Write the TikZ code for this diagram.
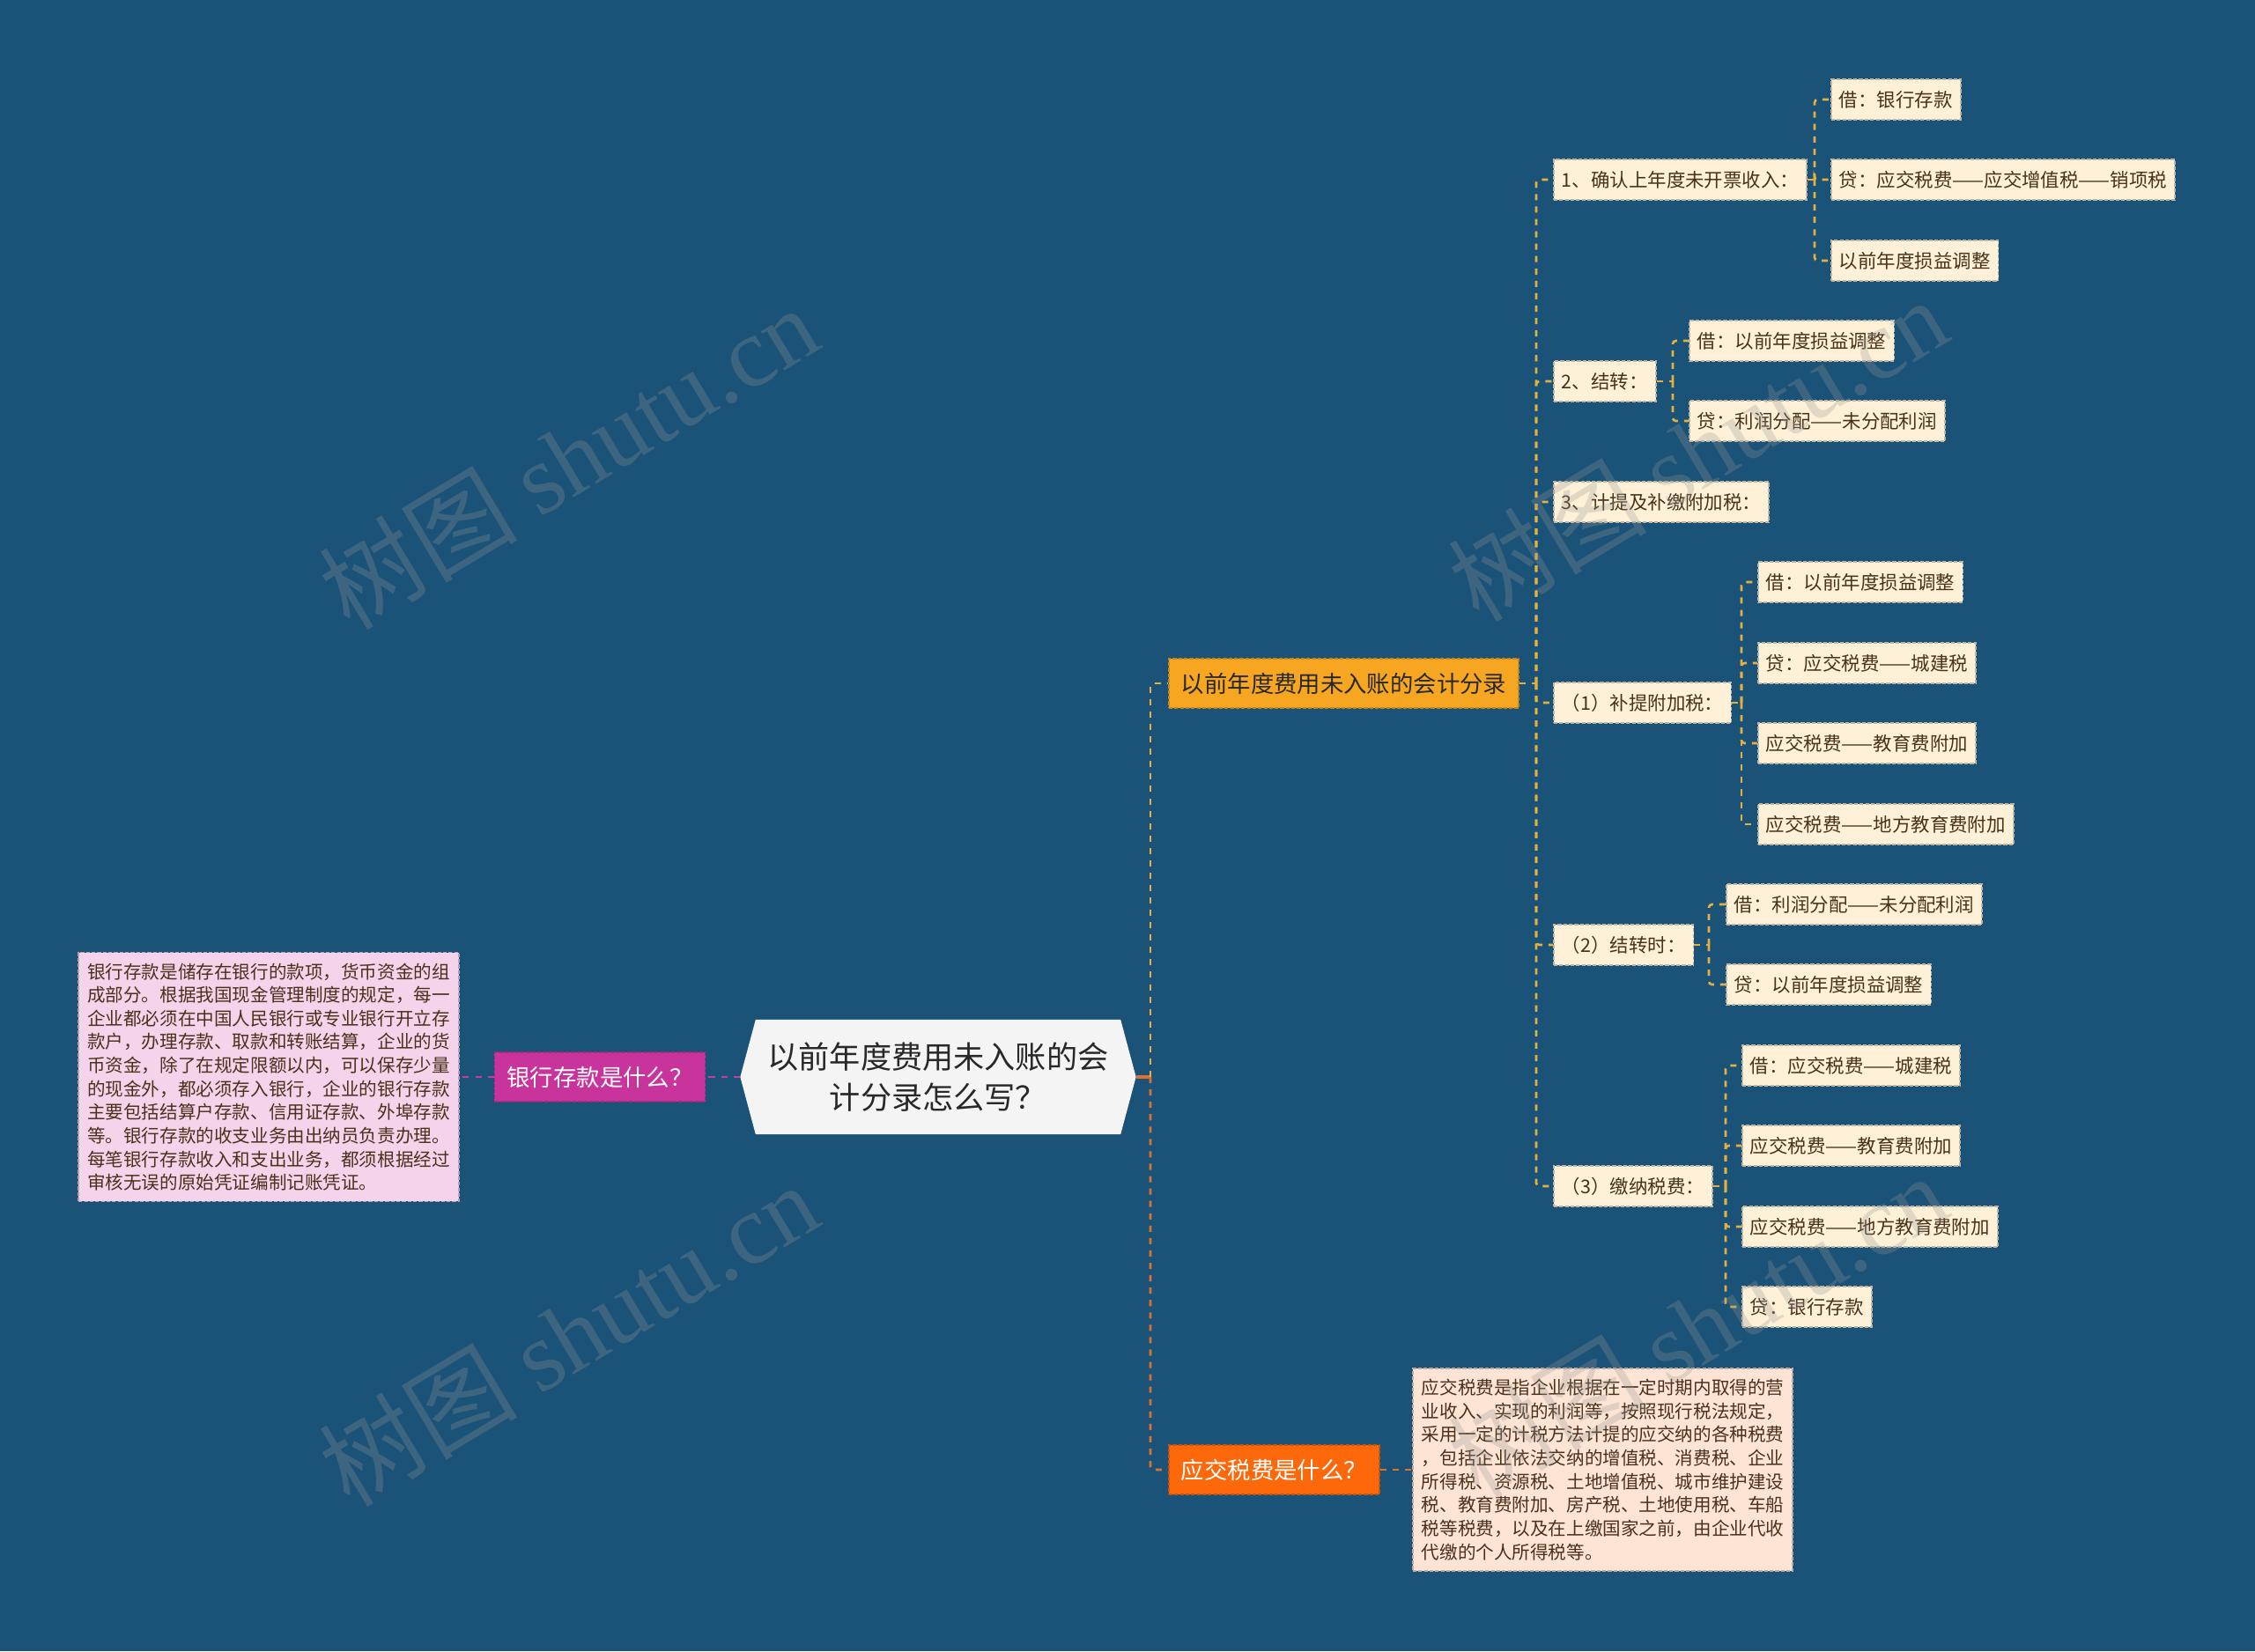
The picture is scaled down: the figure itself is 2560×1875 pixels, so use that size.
\documentclass[tikz,border=0pt]{standalone}
\usepackage{fontspec}
\usepackage{tikz}
\usetikzlibrary{shapes.symbols, positioning, calc}
\newfontfamily\cjk{Noto Sans CJK SC}
\newfontfamily\wmfont{Liberation Serif}
\definecolor{mybg}{RGB}{27,83,120}
\definecolor{myroot}{RGB}{244,244,244}
\definecolor{mytext}{RGB}{40,40,40}
\definecolor{mybrown}{RGB}{72,50,28}
\definecolor{mymagenta}{RGB}{200,52,155}
\definecolor{mypink}{RGB}{245,211,234}
\definecolor{mygold}{RGB}{247,166,34}
\definecolor{myorange}{RGB}{252,104,10}
\definecolor{mypeach}{RGB}{253,228,212}
\definecolor{mycream}{RGB}{254,241,216}
\definecolor{linkgold}{RGB}{228,176,64}
\definecolor{linkorange}{RGB}{222,112,48}
\definecolor{linkmagenta}{RGB}{196,62,160}
\definecolor{wmgray}{RGB}{150,150,150}
\tikzset{
  box/.style={rectangle, dash pattern=on 1.2pt off 0.6pt, line width=0.5pt, inner ysep=0pt},
  rootbox/.style={signal, signal to=east and west, signal pointer angle=150,
    fill=myroot, text=mytext, font=\cjk\fontsize{10}{13}\selectfont,
    align=center, minimum width=4.49cm, minimum height=1.3cm},
  topic/.style={box, draw=#1!80!black, fill=#1, minimum height=0.56cm,
    inner xsep=0.14cm, font=\cjk\fontsize{7.5}{9}\selectfont},
  item/.style={box, draw=mycream!75!black, fill=mycream, text=mybrown,
    minimum height=0.46cm, inner xsep=0.09cm, font=\cjk\fontsize{6.1}{7}\selectfont, anchor=west},
  note/.style={box, draw=#1!75!black, fill=#1, text=mybrown, align=left,
    inner xsep=0.1cm, inner ysep=0.12cm, font=\cjk\fontsize{5.85}{7.57}\selectfont},
  link/.style={dash pattern=on 2pt off 2pt, line width=0.75pt, rounded corners=1pt},
  goldlink/.style={link, color=linkgold},
  orangelink/.style={link, color=linkorange},
  magentalink/.style={link, color=linkmagenta},
  watermark/.style={text=wmgray, opacity=0.28, rotate=31, font=\cjk\fontsize{32}{36}\selectfont}
}
\begin{document}
\begin{tikzpicture}[x=0.01cm, y=-0.01cm]
  % Background
  \fill[mybg] (0,0) rectangle (2560,1875);
  \useasboundingbox (0,0) rectangle (2560,1875);
  % Centre and main branches
  \node[rootbox] (root) at (1065,1223) {以前年度费用未入账的会\\计分录怎么写？};
  \node[topic=mymagenta, text=white] (bank) at (681,1223) {银行存款是什么？};
  \node[note=mypink] (banknote) at (305,1223) {银行存款是储存在银行的款项，货币资金的组\\成部分。根据我国现金管理制度的规定，每一\\企业都必须在中国人民银行或专业银行开立存\\款户，办理存款、取款和转账结算，企业的货\\币资金，除了在规定限额以内，可以保存少量\\的现金外，都必须存入银行，企业的银行存款\\主要包括结算户存款、信用证存款、外埠存款\\等。银行存款的收支业务由出纳员负责办理。\\每笔银行存款收入和支出业务，都须根据经过\\审核无误的原始凭证编制记账凭证。};
  \node[topic=mygold, text=mytext, anchor=west] (entry) at (1326,776) {以前年度费用未入账的会计分录};
  \node[topic=myorange, text=white, anchor=west] (tax) at (1326,1669) {应交税费是什么？};
  \node[note=mypeach, anchor=west] (taxnote) at (1603,1669) {应交税费是指企业根据在一定时期内取得的营\\业收入、实现的利润等，按照现行税法规定，\\采用一定的计税方法计提的应交纳的各种税费\\，包括企业依法交纳的增值税、消费税、企业\\所得税、资源税、土地增值税、城市维护建设\\税、教育费附加、房产税、土地使用税、车船\\税等税费，以及在上缴国家之前，由企业代收\\代缴的个人所得税等。};
  % Steps
  \node[item] (s1) at (1763,204) {1、确认上年度未开票收入：};
  \node[item] (s2) at (1763,433) {2、结转：};
  \node[item] (s3) at (1763,570) {3、计提及补缴附加税：};
  \node[item] (s4) at (1763,798) {（1）补提附加税：};
  \node[item] (s5) at (1763,1073) {（2）结转时：};
  \node[item] (s6) at (1763,1347) {（3）缴纳税费：};
  % Entries
  \node[item] (s1a) at (2078,113) {借：银行存款};
  \node[item] (s1b) at (2078,204) {贷：应交税费——应交增值税——销项税};
  \node[item] (s1c) at (2078,296) {以前年度损益调整};
  \node[item] (s2a) at (1917,387) {借：以前年度损益调整};
  \node[item] (s2b) at (1917,478) {贷：利润分配——未分配利润};
  \node[item] (s4a) at (1995,661) {借：以前年度损益调整};
  \node[item] (s4b) at (1995,753) {贷：应交税费——城建税};
  \node[item] (s4c) at (1995,844) {应交税费——教育费附加};
  \node[item] (s4d) at (1995,936) {应交税费——地方教育费附加};
  \node[item] (s5a) at (1959,1027) {借：利润分配——未分配利润};
  \node[item] (s5b) at (1959,1118) {贷：以前年度损益调整};
  \node[item] (s6a) at (1977,1210) {借：应交税费——城建税};
  \node[item] (s6b) at (1977,1301) {应交税费——教育费附加};
  \node[item] (s6c) at (1977,1393) {应交税费——地方教育费附加};
  \node[item] (s6d) at (1977,1484) {贷：银行存款};
  % Connectors from the centre
  \coordinate (hub) at (1306,1223);
  \draw[linkorange, line width=1.2pt] (root.east) -- (hub);
  \draw[goldlink] (hub) |- (entry.west);
  \draw[orangelink] (hub) |- (tax.west);
  \draw[orangelink] (tax.east) -- (taxnote.west);
  \draw[magentalink] (root.west) -- (bank.east);
  \draw[magentalink] (bank.west) -- (banknote.east);
  % Connectors to steps and entries
  \coordinate (t0) at (1744,776);
  \draw[goldlink] (entry.east) -- (t0);
  \foreach \c in {s1,s2,s3,s4,s5,s6} \draw[goldlink] (t0) |- (\c.west);
  \coordinate (t1) at (2060,204);
  \draw[goldlink] (s1.east) -- (t1);
  \foreach \c in {s1a,s1b,s1c} \draw[goldlink] (t1) |- (\c.west);
  \coordinate (t2) at (1899,433);
  \draw[goldlink] (s2.east) -- (t2);
  \foreach \c in {s2a,s2b} \draw[goldlink] (t2) |- (\c.west);
  \coordinate (t4) at (1977,798);
  \draw[goldlink] (s4.east) -- (t4);
  \foreach \c in {s4a,s4b,s4c,s4d} \draw[goldlink] (t4) |- (\c.west);
  \coordinate (t5) at (1940,1073);
  \draw[goldlink] (s5.east) -- (t5);
  \foreach \c in {s5a,s5b} \draw[goldlink] (t5) |- (\c.west);
  \coordinate (t6) at (1959,1347);
  \draw[goldlink] (s6.east) -- (t6);
  \foreach \c in {s6a,s6b,s6c,s6d} \draw[goldlink] (t6) |- (\c.west);
  % Watermarks
  \foreach \i/\wx/\wy in {1/645/519, 2/645/1515, 3/1927/510, 4/1927/1505}
    \node[watermark] (wm\i) at (\wx,\wy) {树图 {\wmfont shutu.cn}};
\end{tikzpicture}
\end{document}
